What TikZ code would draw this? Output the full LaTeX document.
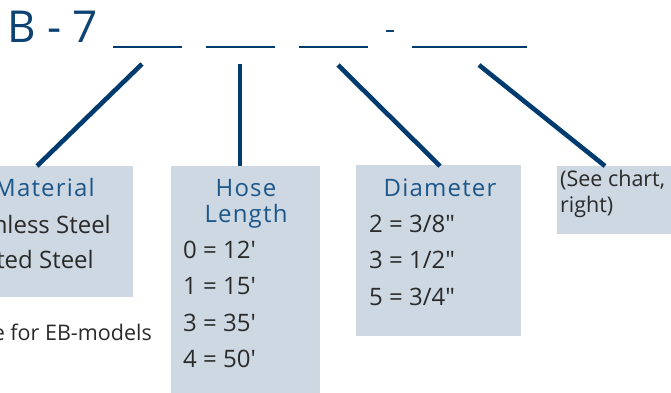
\documentclass[tikz,border=0pt]{standalone}
\usepackage{fontspec}
\setmainfont{Open Sans}
\usetikzlibrary{calc}
\definecolor{navy}{HTML}{003B6F}
\definecolor{titleblue}{HTML}{0D4273}
\definecolor{headblue}{HTML}{1D578A}
\definecolor{bodygray}{HTML}{2A2A2A}
\definecolor{boxfill}{HTML}{CDD8E3}
\newfontfamily\headfont[LetterSpace=5]{Open Sans}
\tikzset{
  box/.style={fill=boxfill, draw=none, anchor=north west, inner sep=0},
  conn/.style={draw=navy, line width=4.6pt, line cap=butt},
  uline/.style={draw=navy, line width=2.2pt},
  head/.style={anchor=base, inner sep=0, text=headblue, font=\headfont\fontsize{24}{24}\selectfont},
  body/.style={anchor=base west, inner sep=0, text=bodygray, font=\fontsize{24}{24}\selectfont},
  bodyr/.style={anchor=base east, inner sep=0, text=bodygray, font=\fontsize{24}{24}\selectfont},
  note/.style={anchor=base west, inner sep=0, text=bodygray, font=\fontsize{21.5}{21.5}\selectfont},
}
\newcommand{\ft}{\textquotesingle}
\newcommand{\inch}{\textquotedbl}
\begin{document}
\begin{tikzpicture}[x=1pt,y=-1pt]
\useasboundingbox (0,0) rectangle (671,392);
\clip (0,0) rectangle (671,392);
% title
\node[anchor=base west, inner sep=0, text=titleblue, font=\fontsize{44}{44}\selectfont] (title) at (7,42) {B - 7};
\draw[uline] (113,47) -- (182,47);
\draw[uline] (206,47) -- (275,47);
\draw[uline] (299,47) -- (368,47);
\draw[draw=titleblue, line width=2.6pt] (386,31) -- (394,31);
\draw[uline] (412,47) -- (527,47);
% boxes
\node[box, minimum width=180pt, minimum height=131pt] (mat) at (-47,166) {};
\node[box, minimum width=149pt, minimum height=240pt] (hose) at (171,166) {};
\node[box, minimum width=165pt, minimum height=171pt] (dia) at (356,165) {};
\node[box, minimum width=150pt, minimum height=68pt] (see) at (557,166) {};
% connectors
\coordinate (u1) at (142,64);
\coordinate (u2) at (240,64);
\coordinate (u3) at (338,65);
\coordinate (u4) at (479,65);
\draw[conn] (u1) -- ($(mat.north west)+(84,0)$);
\draw[conn] (u2) -- ($(hose.north west)+(69,0)$);
\draw[conn] (u3) -- ($(dia.north west)+(84,1)$);
\draw[conn] (u4) -- ($(see.north west)+(48,0)$);
% material
\node[head, anchor=base east] (mh) at (95,196) {Material};
\node[bodyr] (m1) at (111,233) {Stainless Steel};
\node[bodyr] (m2) at (94,268) {Plated Steel};
\node[anchor=base east, inner sep=0, text=bodygray, font=\fontsize{21.5}{21.5}\selectfont] (mn) at (152,340) {available for EB-models};
% hose
\node[head] (hh1) at (246,196) {Hose};
\node[head] (hh2) at (246,222) {Length};
\node[body] (h0) at (183,258) {0 = 12\ft};
\node[body] (h1) at (183,294) {1 = 15\ft};
\node[body] (h3) at (183,331) {3 = 35\ft};
\node[body] (h4) at (183,367) {4 = 50\ft};
% diameter
\node[head] (dh) at (440,196) {Diameter};
\node[body] (d2) at (369,232) {2 = 3/8\inch};
\node[body] (d3) at (369,268) {3 = 1/2\inch};
\node[body] (d5) at (369,305) {5 = 3/4\inch};
% see chart
\node[note] (s1) at (560,186) {(See chart,};
\node[note] (s2) at (560,212) {right)};
\end{tikzpicture}
\end{document}
